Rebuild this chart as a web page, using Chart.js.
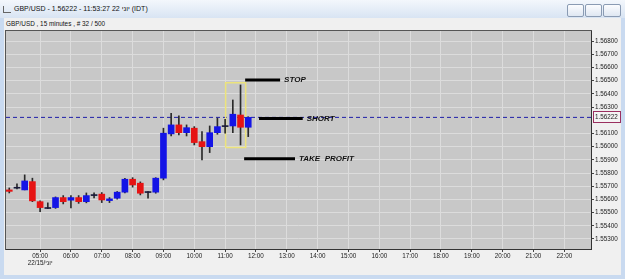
<!DOCTYPE html>
<html><head><meta charset="utf-8">
<script src="https://cdn.jsdelivr.net/npm/chart.js@4.4.1/dist/chart.umd.min.js"></script>
<style>
html,body{margin:0;padding:0;width:625px;height:279px;overflow:hidden;background:#c9daf0;font-family:"Liberation Sans",Arial,sans-serif;}
#titlebar{position:absolute;left:0;top:0;width:625px;height:18px;background:linear-gradient(#f3f7fc,#d8e4f3);}
#title{position:absolute;left:14px;top:5px;font-size:7px;color:#111;white-space:nowrap;}
#icon{position:absolute;left:3px;top:6px;width:7px;height:6px;border-bottom:1px solid #666;border-left:1px solid #666;}
.btn{position:absolute;top:4px;height:11px;border:1px solid #8a9bb3;border-radius:2px;background:linear-gradient(#fbfcfe,#dfe7f2);}
#panel{position:absolute;left:4px;top:18px;width:617px;height:257px;background:#f0f0f0;}
#subtitle{position:absolute;left:6px;top:20px;font-size:6.4px;color:#111;white-space:nowrap;}
#c{position:absolute;left:0;top:0;}
</style></head>
<body>
<div id="titlebar"><div id="icon"></div><div id="title">GBP/USD - 1.56222 - 11:53:27 22 יוני (IDT)</div>
<div class="btn" style="left:567px;width:15px"></div>
<div class="btn" style="left:585px;width:15px"></div>
<div class="btn" style="left:603px;width:16px"></div>
</div>
<div id="panel"></div>
<div id="subtitle">GBP/USD , 15 minutes , # 32 / 500</div>
<canvas id="c" width="625" height="279"></canvas>
<script>
const candleTimes = ['04:00','04:15','04:30','04:45','05:00','05:15','05:30','05:45',
  '06:00','06:15','06:30','06:45','07:00','07:15','07:30','07:45',
  '08:00','08:15','08:30','08:45','09:00','09:15','09:30','09:45',
  '10:00','10:15','10:30','10:45','11:00','11:15','11:30','11:45'];
const openPrices  = [1.55672,1.55685,1.55672,1.55735,1.55583,1.55531,1.55538,1.55614,
  1.55594,1.55614,1.55583,1.55629,1.55640,1.55591,1.55609,1.55655,
  1.55753,1.55723,1.55652,1.55655,1.55761,1.56097,1.56165,1.56106,
  1.56140,1.56038,1.56000,1.56106,1.56152,1.56157,1.56240,1.56147];
const highPrices  = [1.55687,1.55718,1.55786,1.55761,1.55590,1.55574,1.55619,1.55629,
  1.55629,1.55629,1.55649,1.55649,1.55652,1.55614,1.55660,1.55760,
  1.55765,1.55733,1.55660,1.55765,1.56140,1.56253,1.56233,1.56165,
  1.56152,1.56114,1.56157,1.56216,1.56208,1.56354,1.56468,1.56227];
const lowPrices   = [1.55649,1.55680,1.55672,1.55583,1.55508,1.55530,1.55532,1.55566,
  1.55536,1.55570,1.55574,1.55611,1.55576,1.55576,1.55602,1.55650,
  1.55693,1.55634,1.55609,1.55647,1.55748,1.56081,1.56089,1.56081,
  1.56013,1.55900,1.55955,1.56094,1.56102,1.56106,1.56013,1.56076];
const closePrices = [1.55661,1.55688,1.55740,1.55589,1.55538,1.55535,1.55614,1.55583,
  1.55614,1.55583,1.55629,1.55633,1.55596,1.55604,1.55655,1.55753,
  1.55710,1.55647,1.55656,1.55761,1.56102,1.56165,1.56106,1.56144,
  1.56031,1.56000,1.56106,1.56152,1.56157,1.56246,1.56147,1.56222];
const priceTicks = [1.553,1.554,1.555,1.556,1.557,1.558,1.559,1.560,1.561,1.563,1.564,1.565,1.566,1.567,1.568];
const hourTicks = ['05:00','06:00','07:00','08:00','09:00','10:00','11:00','12:00','13:00',
  '14:00','15:00','16:00','17:00','18:00','19:00','20:00','21:00','22:00'];
const dateLabel = '22/15/יוני';
const lastPrice = 1.56222;
const levelNames  = ['STOP','SHORT','TAKE  PROFIT'];
const levelPrices = [1.56505,1.56214,1.55908];
const levelStarts = ['11:39','12:06','11:37'];
const levelEnds   = ['12:47','13:31','13:16'];
const boxTimes  = ['11:01','11:40'];
const boxPrices = [1.55993,1.56485];

const toH = s => { const [h,m] = s.split(':').map(Number); return h + m/60; };
const X_MIN = 3.894, X_MAX = 22.866, Y_MIN = 1.55224, Y_MAX = 1.56877;
const FONT = '"Liberation Sans", Arial, sans-serif';

const bodyColors = openPrices.map((o,i) => {
  const c = closePrices[i];
  if (Math.abs(c - o) < 0.0001) return '#1a1a3a';
  return c > o ? '#1414e6' : '#e61414';
});

const datasets = [];
levelNames.forEach((n,i) => datasets.push({
  type:'line', order:1, data:[{x:toH(levelStarts[i]), y:levelPrices[i]},{x:toH(levelEnds[i]), y:levelPrices[i]}],
  borderColor:'#000', borderWidth:3, pointRadius:0, borderCapStyle:'butt'
}));
datasets.push({
  type:'bar', order:2, grouped:false, barThickness:6, minBarLength:1,
  data: candleTimes.map((t,i) => ({x:toH(t), y:[openPrices[i], closePrices[i]]})),
  backgroundColor: bodyColors, borderWidth:0
});
datasets.push({
  type:'bar', order:3, grouped:false, barThickness:1,
  data: candleTimes.map((t,i) => ({x:toH(t), y:[lowPrices[i], highPrices[i]]})),
  backgroundColor:'#2a2a2a', borderWidth:0
});
datasets.push({
  type:'line', order:4, data:[
    {x:toH(boxTimes[0]), y:boxPrices[0]},{x:toH(boxTimes[0]), y:boxPrices[1]},
    {x:toH(boxTimes[1]), y:boxPrices[1]},{x:toH(boxTimes[1]), y:boxPrices[0]},
    {x:toH(boxTimes[0]), y:boxPrices[0]}],
  borderColor:'#ece37c', borderWidth:1.5, pointRadius:0, tension:0
});
datasets.push({
  type:'line', order:5, data:[{x:X_MIN, y:lastPrice},{x:X_MAX, y:lastPrice}],
  borderColor:'#1e1ea8', borderWidth:1, borderDash:[4,3], pointRadius:0
});

const bgPlugin = {
  id:'bg',
  beforeDraw(chart) {
    const {ctx, chartArea:a} = chart;
    ctx.save();
    ctx.fillStyle = '#c8c8c8';
    ctx.fillRect(a.left, a.top, a.right - a.left, a.bottom - a.top);
    ctx.strokeStyle = '#555';
    ctx.lineWidth = 1;
    ctx.strokeRect(a.left - 0.5, a.top - 0.5, a.right - a.left + 1, a.bottom - a.top + 1);
    ctx.restore();
  },
  afterDraw(chart) {
    const {ctx, chartArea:a} = chart;
    const xs = chart.scales.x, ys = chart.scales.y;
    ctx.save();
    ctx.font = 'italic bold 8px ' + FONT;
    ctx.fillStyle = '#111';
    ctx.textBaseline = 'middle';
    levelNames.forEach((n,i) => {
      ctx.fillText(n, xs.getPixelForValue(toH(levelEnds[i])) + 4, ys.getPixelForValue(levelPrices[i]));
    });
    const y = ys.getPixelForValue(lastPrice);
    ctx.fillStyle = '#f4f4f4';
    ctx.fillRect(a.right + 2.5, Math.round(y) - 5.5, 27, 11);
    ctx.strokeStyle = '#9a3060';
    ctx.lineWidth = 1;
    ctx.strokeRect(a.right + 2.5, Math.round(y) - 5.5, 27, 11);
    ctx.fillStyle = '#222';
    ctx.font = '6.3px ' + FONT;
    ctx.fillText(lastPrice.toFixed(5), a.right + 4, Math.round(y));
    ctx.restore();
  }
};

new Chart(document.getElementById('c'), {
  type:'bar',
  data:{ datasets },
  plugins:[bgPlugin],
  options:{
    responsive:false, animation:false, events:[],
    layout:{ padding:{ left:6, top:31, right:0, bottom:0 } },
    plugins:{ legend:{display:false}, tooltip:{enabled:false} },
    scales:{
      x:{
        type:'linear', min:X_MIN, max:X_MAX, offset:false,
        grid:{ color:'#dcdcdc', offset:false, tickLength:3, tickColor:'#444' },
        border:{ color:'#333' },
        afterBuildTicks: s => { s.ticks = hourTicks.map(t => ({value:toH(t)})); },
        afterFit: s => { s.height = 30; },
        ticks:{ autoSkip:false, maxRotation:0, padding:1, color:'#222',
          font:{ size:6.3, family:FONT, lineHeight:1.1 },
          callback:(v,i) => i === 0 ? [hourTicks[i], dateLabel] : hourTicks[i] }
      },
      y:{
        type:'linear', position:'right', min:Y_MIN, max:Y_MAX,
        grid:{ color:'#dcdcdc', tickLength:3, tickColor:'#444' },
        border:{ color:'#333' },
        afterBuildTicks: s => { s.ticks = priceTicks.map(v => ({value:v})); },
        afterFit: s => { s.width = 34; },
        ticks:{ autoSkip:false, padding:1, color:'#222', font:{ size:6.3, family:FONT },
          callback: v => Number(v).toFixed(5) }
      }
    }
  }
});
</script>
</body></html>
